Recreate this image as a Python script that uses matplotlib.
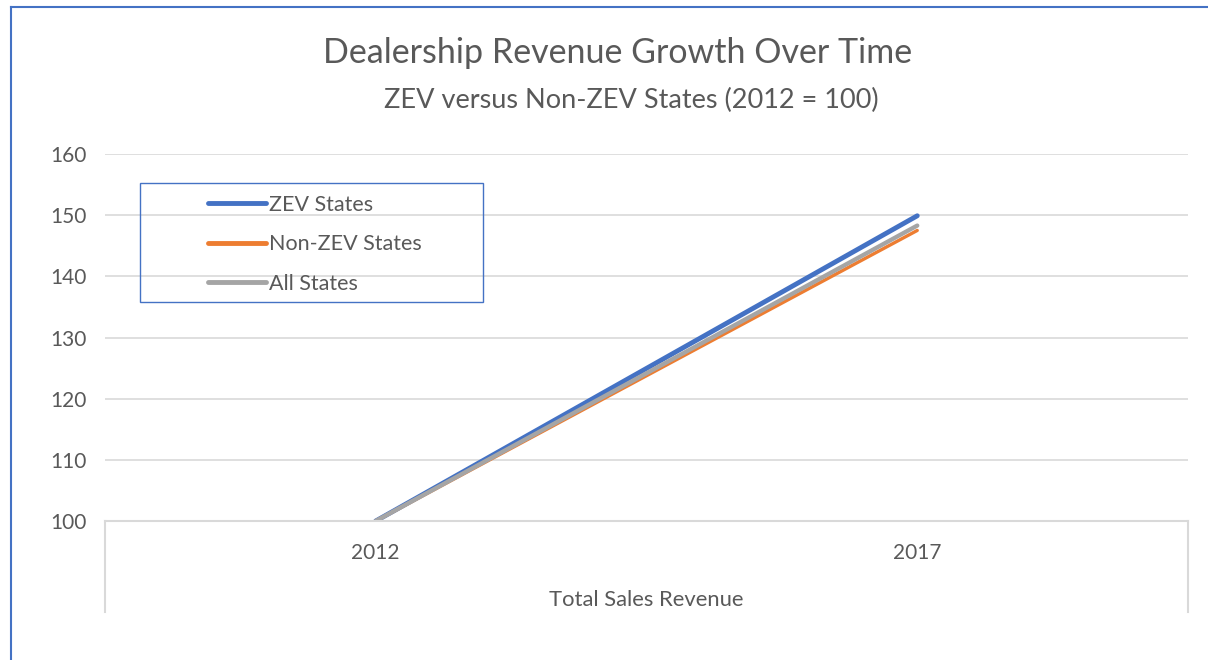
import matplotlib.pyplot as plt
from matplotlib.lines import Line2D
from matplotlib.patches import Rectangle

plt.rcParams['font.family'] = ['Lato', 'DejaVu Sans']

# data
years = ['2012', '2017']
zev = [100, 149.9]
non_zev = [100, 147.5]
all_states = [100, 148.3]
axis_title = 'Total Sales Revenue'

text_col = '#595959'
grid_col = '#d9d9d9'

fig = plt.figure(figsize=(12.08, 6.6), dpi=100)
ax = fig.add_axes([105/1208, 1 - 521/660, (1188-105)/1208, (521-154)/660])

x = range(len(years))
ax.plot(x, zev, color='#4472c4', lw=3.5, solid_capstyle='round', label='ZEV States')
ax.plot(x, non_zev, color='#ed7d31', lw=2.4, solid_capstyle='round', label='Non-ZEV States')
ax.plot(x, all_states, color='#a5a5a5', lw=3.1, solid_capstyle='round', label='All States')

ax.set_xlim(-0.5, 1.5)
ax.set_ylim(100, 160)
ax.set_yticks(range(100, 161, 10))
ax.set_xticks(list(x))
ax.set_xticklabels(years)
ax.tick_params(length=0, labelsize=15, colors=text_col)
ax.tick_params(axis='x', pad=16)
ax.tick_params(axis='y', pad=13)
ax.grid(axis='y', color=grid_col, lw=1.2)
ax.set_axisbelow(True)
for s in ['top', 'left', 'right']:
    ax.spines[s].set_visible(False)
ax.spines['bottom'].set_color(grid_col)
ax.spines['bottom'].set_linewidth(1.5)

# category separators below axis
for xs in [0, 1]:
    ax.add_line(Line2D([xs, xs], [0, -(612-521)/367], transform=ax.transAxes,
                       color=grid_col, lw=1.5, clip_on=False))
ax.text(0.5, -(600-521)/367, axis_title, transform=ax.transAxes, ha='center', va='center',
        fontsize=15.8, color=text_col)

fig.text(618/1208, 1 - 53/660, 'Dealership Revenue Growth Over Time', ha='center', va='center',
         fontsize=24.5, color=text_col)
fig.text(631/1208, 1 - 100/660, 'ZEV versus Non-ZEV States (2012 = 100)', ha='center', va='center',
         fontsize=19.5, color=text_col)

# legend box
fig.patches.append(Rectangle((140/1208, 1 - 302/660), (483-140)/1208, (302-183)/660,
                             transform=fig.transFigure, fill=False, edgecolor='#4472c4', lw=1.0))
leg = fig.legend(loc='upper left', bbox_to_anchor=(208/1208, 1 - 195/660), frameon=False,
                 fontsize=15.5, labelcolor=text_col, handlelength=2.7, handletextpad=0.12,
                 labelspacing=0.9, borderpad=0, borderaxespad=0)
for h in leg.legend_handles:
    h.set_linewidth(3.5)

# outer border
fig.add_artist(Line2D([11/1208, 11/1208], [0, 1 - 7/660], transform=fig.transFigure,
                      color='#4472c4', lw=1.5))
fig.add_artist(Line2D([11/1208, 1], [1 - 7/660, 1 - 7/660], transform=fig.transFigure,
                      color='#4472c4', lw=1.5))

fig.savefig('out.png', dpi=100)
